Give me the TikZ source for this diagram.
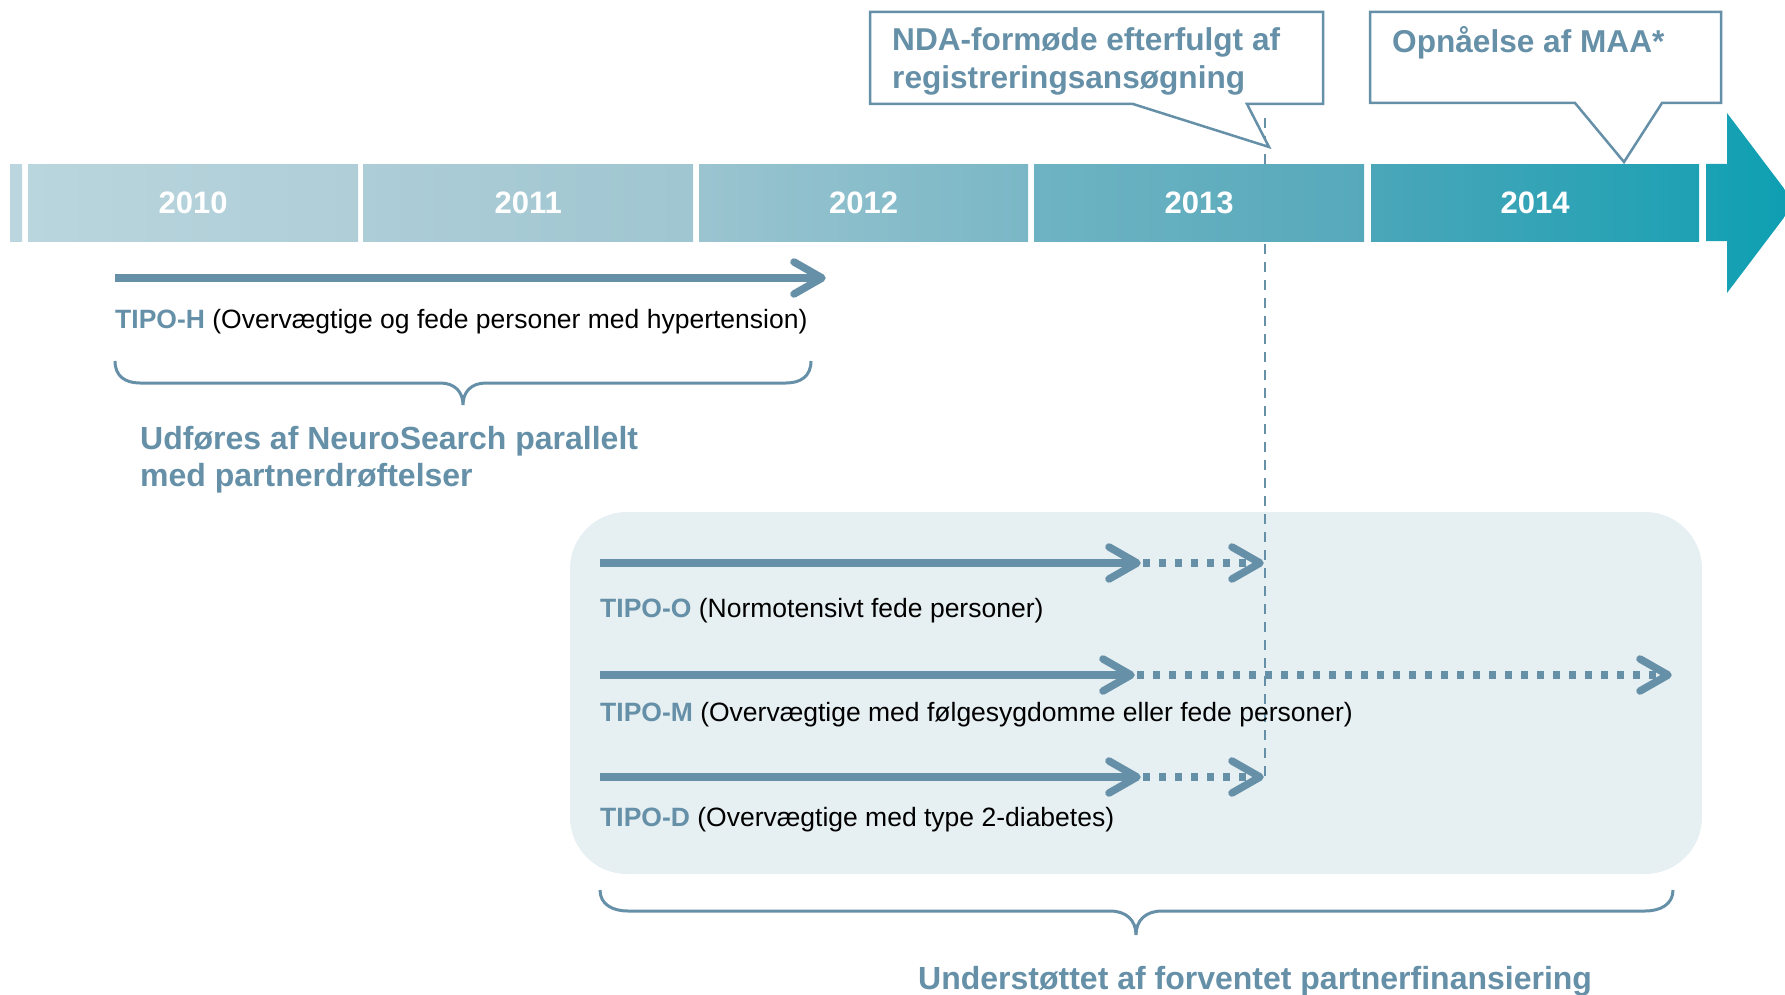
\documentclass[tikz,border=0pt]{standalone}
\usepackage{fontspec}
\setmainfont{Liberation Sans}
\usetikzlibrary{calc}

\definecolor{steel}{HTML}{6590A8}
\definecolor{panelfill}{HTML}{E6EFF2}
% timeline bar gradient stops
\definecolor{barA}{HTML}{BBD6DE}
\definecolor{barB}{HTML}{B9D5DD}
\definecolor{barC}{HTML}{AFCED8}
\definecolor{barD}{HTML}{ADCDD7}
\definecolor{barE}{HTML}{9FC6D1}
\definecolor{barF}{HTML}{9AC4D0}
\definecolor{barG}{HTML}{7AB7C6}
\definecolor{barH}{HTML}{6EB3C3}
\definecolor{barI}{HTML}{56A9BB}
\definecolor{barJ}{HTML}{4BA6B9}
\definecolor{barK}{HTML}{1FA1B4}
\definecolor{barL}{HTML}{1AA1B4}
\definecolor{barM}{HTML}{0E9FB2}

% open chevron head drawn at a named tip coordinate
\newcommand\chevronat[1]{%
  \draw[chevron] ($(#1)+(-28,-16)$) -- (#1) -- ($(#1)+(-28,16)$);}

\begin{document}
\begin{tikzpicture}[x=1pt,y=-1pt,
  yearbox/.style={minimum height=77pt, inner sep=0pt, anchor=north west,
    text=white, font=\fontsize{31}{36}\selectfont\bfseries},
  bluelabel/.style={anchor=base west, inner sep=0pt, text=steel,
    font=\fontsize{32}{36}\selectfont\bfseries},
  bubblelabel/.style={bluelabel, font=\fontsize{31.6}{36}\selectfont\bfseries},
  triallabel/.style={anchor=base west, inner sep=0pt, text=black,
    font=\fontsize{26.5}{30}\selectfont},
  bubble/.style={draw=steel, fill=white, line width=2.5pt, line join=miter},
  solidrun/.style={draw=steel, line width=7.5pt},
  dottedrun/.style={draw=steel, line width=7.5pt, dash pattern=on 7pt off 9pt},
  chevron/.style={draw=steel, line width=7.5pt, line cap=round, line join=round},
  bracepath/.style={draw=steel, line width=3pt},
  milestone/.style={draw=steel, line width=2.5pt, dash pattern=on 10pt off 8pt},
]
\clip (0,0) rectangle (1785,995);

% shaded background panel for the partner-funded trials
\node[fill=panelfill, rounded corners=57pt, minimum width=1132pt,
      minimum height=362pt, inner sep=0pt] (panel) at (1136,693) {};

% milestone marker
\coordinate (msTop) at (1265,118);
\coordinate (msBot) at (1265,781);
\draw[milestone] (msTop) -- (msBot);

% timeline bar
\node[yearbox, left color=barA, right color=barA, minimum width=12pt] (lead) at (10,164) {};
\node[yearbox, left color=barB, right color=barC, minimum width=330pt] (y2010) at (28,164) {2010};
\node[yearbox, left color=barD, right color=barE, minimum width=330pt] (y2011) at (363,164) {2011};
\node[yearbox, left color=barF, right color=barG, minimum width=329pt] (y2012) at (699,164) {2012};
\node[yearbox, left color=barH, right color=barI, minimum width=330pt] (y2013) at (1034,164) {2013};
\node[yearbox, left color=barJ, right color=barK, minimum width=328pt] (y2014) at (1371,164) {2014};
\shade[left color=barL, right color=barM]
  (1706,164) -- (1727,164) -- (1727,113) -- (1795,203) -- (1727,293)
  -- (1727,241) -- (1706,241) -- cycle;

% callouts
\draw[bubble] (870,12) -- (1323,12) -- (1323,104) -- (1247,104) -- (1269,147)
  -- (1133,104) -- (870,104) -- cycle;
\node[bubblelabel] (nda1) at (892,51) {NDA-formøde efterfulgt af};
\node[bubblelabel] (nda2) at (892,89) {registreringsansøgning};

\draw[bubble] (1370,12) -- (1721,12) -- (1721,103) -- (1662,103) -- (1624,162)
  -- (1575,103) -- (1370,103) -- cycle;
\node[bubblelabel] (maa) at (1392,53) {Opnåelse af MAA*};

% TIPO-H
\coordinate (hStart) at (115,278);
\coordinate (hTip) at (822,278);
\draw[solidrun] (hStart) -- (hTip);
\chevronat{hTip}
\node[triallabel] (hLabel) at (115,328)
  {\textcolor{steel}{\bfseries TIPO-H} (Overvægtige og fede personer med hypertension)};

% brace over TIPO-H
\coordinate (b1L) at (115,361);
\coordinate (b1R) at (811,361);
\coordinate (b1Tip) at (463,405);
\draw[bracepath] (b1L) .. controls (115,376) and (125,383) .. (140,383)
  -- (440,383) .. controls (455,383) and (463,392) .. (b1Tip)
  .. controls (463,392) and (471,383) .. (486,383)
  -- (786,383) .. controls (801,383) and (811,376) .. (b1R);
\node[bluelabel] (ns1) at (140,449) {Udføres af NeuroSearch parallelt};
\node[bluelabel] (ns2) at (140,486) {med partnerdrøftelser};

% TIPO-O
\coordinate (oStart) at (600,563);
\coordinate (oMid) at (1137,563);
\coordinate (oEnd) at (1260,563);
\draw[solidrun] (oStart) -- (oMid);
\chevronat{oMid}
\draw[dottedrun] ($(oMid)+(6,0)$) -- ($(oEnd)+(-4,0)$);
\chevronat{oEnd}
\node[triallabel] (oLabel) at (600,617)
  {\textcolor{steel}{\bfseries TIPO-O} (Normotensivt fede personer)};

% TIPO-M
\coordinate (mStart) at (600,675);
\coordinate (mMid) at (1131,675);
\coordinate (mEnd) at (1668,675);
\draw[solidrun] (mStart) -- (mMid);
\chevronat{mMid}
\draw[dottedrun] ($(mMid)+(6,0)$) -- ($(mEnd)+(-4,0)$);
\chevronat{mEnd}
\node[triallabel] (mLabel) at (600,721)
  {\textcolor{steel}{\bfseries TIPO-M} (Overvægtige med følgesygdomme eller fede personer)};

% TIPO-D
\coordinate (dStart) at (600,777);
\coordinate (dMid) at (1137,777);
\coordinate (dEnd) at (1260,777);
\draw[solidrun] (dStart) -- (dMid);
\chevronat{dMid}
\draw[dottedrun] ($(dMid)+(6,0)$) -- ($(dEnd)+(-4,0)$);
\chevronat{dEnd}
\node[triallabel] (dLabel) at (600,826)
  {\textcolor{steel}{\bfseries TIPO-D} (Overvægtige med type 2-diabetes)};

% brace under the panel
\coordinate (b2L) at (600,890);
\coordinate (b2R) at (1673,890);
\coordinate (b2Tip) at (1136,935);
\draw[bracepath] (b2L) .. controls (600,904) and (612,911) .. (628,911)
  -- (1110,911) .. controls (1126,911) and (1136,920) .. (b2Tip)
  .. controls (1136,920) and (1146,911) .. (1162,911)
  -- (1645,911) .. controls (1661,911) and (1673,904) .. (b2R);
\node[bluelabel] (funding) at (918,989) {Understøttet af forventet partnerfinansiering};
\end{tikzpicture}
\end{document}
